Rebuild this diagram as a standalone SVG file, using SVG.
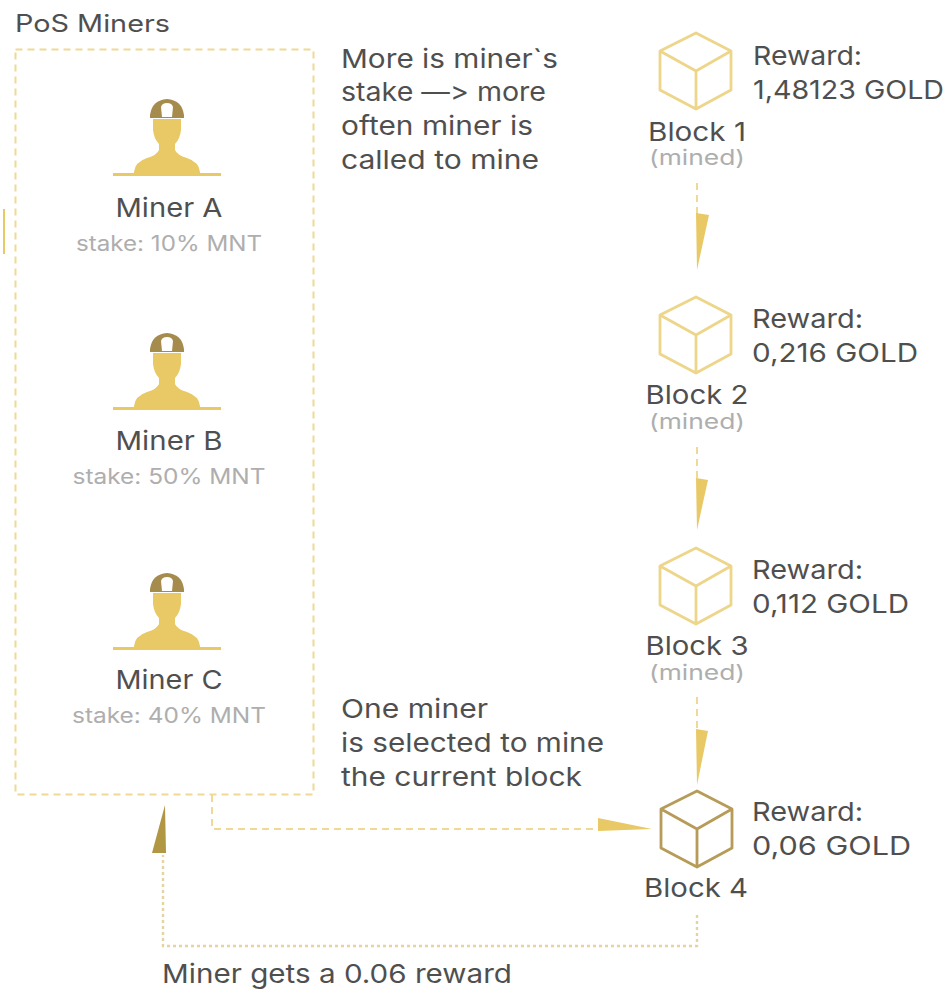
<svg xmlns="http://www.w3.org/2000/svg" width="952" height="990" viewBox="0 0 952 990">
<style>
text{font-family:"Inter","Liberation Sans",sans-serif;font-size:26px;fill:#3d3d3d;opacity:.9;font-variant-ligatures:none;font-feature-settings:"calt" 0,"liga" 0}
.s{font-size:21px;fill:#a6a6a6}
.m{text-anchor:middle}
.d{fill:none;stroke:#f0d994;stroke-width:2;stroke-dasharray:7 5}
.o{fill:none;stroke:#e5d3a0;stroke-width:2.4;stroke-dasharray:3 3}
.c{fill:none;stroke:#edd58a;stroke-width:2.800;stroke-linejoin:round}
.h{fill:#e9c965}
</style>
<defs>
<g id="cube"><path d="M0 0L35 18V57L0 76L-36 57V18ZM-36 18L0 38L35 18M0 38V76"/></g>
<g id="miner">
<path d="M150 118V115Q152 100 167 99Q182 100 184 115V118Z" fill="#a68c4c"/>
<path d="M161 107Q162 103 167 103Q172 103 173 107L172 117H162Z" fill="#fff"/>
<path d="M153 119H181V130Q180 139 175 144V150Q177 155 187 158Q199 162 200 172V174H134V172Q135 162 147 158Q157 155 159 150V144Q154 139 153 130Z" class="h"/>
<path d="M113 174.500H221" stroke="#e9c965" stroke-width="3" fill="none"/>
</g>
</defs>
<g id="connectors">
<path class="d" d="M697 183V214"/><polygon class="h" points="696,213 709,215 697,270"/>
<path class="d" d="M697 447V478"/><polygon class="h" points="696,478 708,480 697,530"/>
<path class="d" d="M697 697V730"/><polygon class="h" points="696,729 708,731 697,785"/>
<path class="d" d="M212 795V829H600"/><polygon class="h" points="598,818 652,829 598,831"/>
<path class="o" d="M697 915V946H163V855"/><polygon fill="#b19644" points="165,805 166,853 152,853"/>
</g>
<g id="pos-miners">
<rect x="15.500" y="49.500" width="298" height="745" class="d"/>
<text x="15" y="32" style="font-size:24px" textLength="155" lengthAdjust="spacingAndGlyphs">PoS Miners</text>
<path d="M4 209V254" stroke="#e9c965" stroke-width="2"/>
</g>
<g id="miner-a"><use href="#miner"/>
<text x="169" y="217" class="m" textLength="107" lengthAdjust="spacingAndGlyphs">Miner A</text>
<text x="169" y="251" class="s m" textLength="186" lengthAdjust="spacingAndGlyphs">stake: 10% MNT</text></g>
<g id="miner-b"><use href="#miner" y="234"/>
<text x="169" y="450" class="m" textLength="107" lengthAdjust="spacingAndGlyphs">Miner B</text>
<text x="169" y="484" class="s m" textLength="193" lengthAdjust="spacingAndGlyphs">stake: 50% MNT</text></g>
<g id="miner-c"><use href="#miner" y="474"/>
<text x="169" y="689" class="m" textLength="107" lengthAdjust="spacingAndGlyphs">Miner C</text>
<text x="169" y="723" class="s m" textLength="194" lengthAdjust="spacingAndGlyphs">stake: 40% MNT</text></g>
<g id="note-stake">
<text x="341" y="68" textLength="217" lengthAdjust="spacingAndGlyphs">More is miner`s</text>
<text x="341" y="101" textLength="205" lengthAdjust="spacingAndGlyphs">stake —&gt; more</text>
<text x="341" y="135" textLength="192" lengthAdjust="spacingAndGlyphs">often miner is</text>
<text x="341" y="169" textLength="198" lengthAdjust="spacingAndGlyphs">called to mine</text>
</g>
<g id="note-selected">
<text x="341" y="718" textLength="147" lengthAdjust="spacingAndGlyphs">One miner</text>
<text x="341" y="752" textLength="263" lengthAdjust="spacingAndGlyphs">is selected to mine</text>
<text x="341" y="786" textLength="241" lengthAdjust="spacingAndGlyphs">the current block</text>
</g>
<g id="block-1"><use href="#cube" x="696" y="33" class="c"/>
<text x="697" y="141" class="m" textLength="98" lengthAdjust="spacingAndGlyphs">Block 1</text>
<text x="697" y="165" class="s m" textLength="96" lengthAdjust="spacingAndGlyphs">(mined)</text>
<text x="753" y="65" textLength="109" lengthAdjust="spacingAndGlyphs">Reward:</text>
<text x="753" y="99" textLength="191" lengthAdjust="spacingAndGlyphs">1,48123 GOLD</text></g>
<g id="block-2"><use href="#cube" x="696" y="297" class="c"/>
<text x="697" y="404" class="m" textLength="103" lengthAdjust="spacingAndGlyphs">Block 2</text>
<text x="697" y="429" class="s m" textLength="96" lengthAdjust="spacingAndGlyphs">(mined)</text>
<text x="752" y="328" textLength="111" lengthAdjust="spacingAndGlyphs">Reward:</text>
<text x="752" y="362" textLength="166" lengthAdjust="spacingAndGlyphs">0,216 GOLD</text></g>
<g id="block-3"><use href="#cube" x="696" y="548" class="c"/>
<text x="697" y="655" class="m" textLength="103" lengthAdjust="spacingAndGlyphs">Block 3</text>
<text x="697" y="680" class="s m" textLength="96" lengthAdjust="spacingAndGlyphs">(mined)</text>
<text x="752" y="579" textLength="111" lengthAdjust="spacingAndGlyphs">Reward:</text>
<text x="752" y="613" textLength="157" lengthAdjust="spacingAndGlyphs">0,112 GOLD</text></g>
<g id="block-4"><use href="#cube" x="697" y="791" class="c" style="stroke:#b79b58"/>
<text x="696" y="897" class="m" textLength="104" lengthAdjust="spacingAndGlyphs">Block 4</text>
<text x="752" y="821" textLength="111" lengthAdjust="spacingAndGlyphs">Reward:</text>
<text x="752" y="855" textLength="159" lengthAdjust="spacingAndGlyphs">0,06 GOLD</text></g>
<text id="reward-note" x="162" y="983" textLength="350" lengthAdjust="spacingAndGlyphs">Miner gets a 0.06 reward</text>
</svg>
